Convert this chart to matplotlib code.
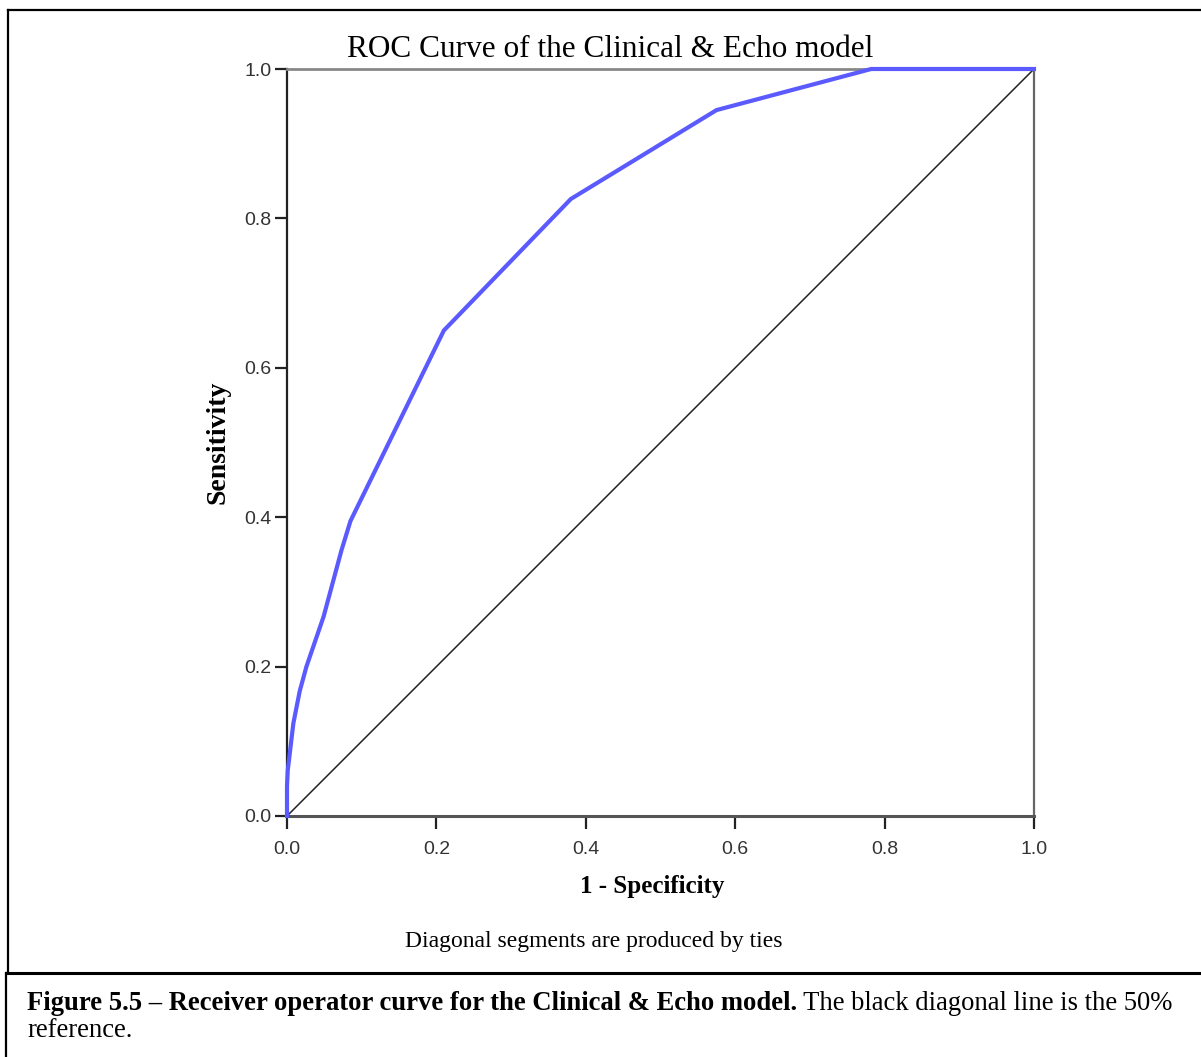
import numpy as np
import matplotlib.pyplot as plt
from matplotlib.lines import Line2D

# ROC points (1 - specificity, sensitivity)
fpr = [0.0, 0.0, 0.001, 0.0085, 0.017, 0.026, 0.049, 0.073, 0.085, 0.21, 0.38, 0.575, 0.782, 1.0]
tpr = [0.0, 0.04, 0.061, 0.124, 0.167, 0.20, 0.267, 0.356, 0.395, 0.65, 0.826, 0.945, 1.0, 1.0]
ref_line = [0.0, 1.0]
ticks = [0.0, 0.2, 0.4, 0.6, 0.8, 1.0]

title = "ROC Curve of the Clinical & Echo model"
xlabel = "1 - Specificity"
ylabel = "Sensitivity"
footnote = "Diagonal segments are produced by ties"
caption_bold = "Figure 5.5 \u2013 Receiver operator curve for the Clinical & Echo model."
caption_rest = " The black diagonal line is the 50%"
caption_line2 = "reference."

W, H = 1201, 1057
fig = plt.figure(figsize=(W / 100, H / 100), dpi=100)
ax = fig.add_axes([287 / W, 1 - 816 / H, (1034 - 287) / W, (816 - 69) / H])

ax.plot(ref_line, ref_line, color='#222222', lw=1.1, zorder=2)
ax.plot(fpr, tpr, color='#5a5aff', lw=3.0, solid_joinstyle='miter', zorder=3, clip_on=False)

ax.set_xlim(0, 1)
ax.set_ylim(0, 1)
ax.set_xticks(ticks)
ax.set_yticks(ticks)
tick_font = dict(fontfamily='Liberation Sans', fontsize=14, color='#333333')
ax.set_xticklabels([f"{t:.1f}" for t in ticks], **tick_font)
ax.set_yticklabels([f"{t:.1f}" for t in ticks], **tick_font)
ax.tick_params(axis='x', direction='out', length=9, width=1.6, color='#222222', pad=9)
ax.tick_params(axis='y', direction='out', length=9, width=1.6, color='#222222', pad=2)

ax.spines['left'].set_color('#222222')
ax.spines['left'].set_linewidth(1.6)
ax.spines['bottom'].set_color('#555555')
ax.spines['bottom'].set_linewidth(2.2)
ax.spines['top'].set_color('#888888')
ax.spines['top'].set_linewidth(2.0)
ax.spines['right'].set_color('#666666')
ax.spines['right'].set_linewidth(1.6)

fig.text(610 / W, 1 - 57 / H, title, ha='center', va='baseline',
         fontfamily='Liberation Serif', fontsize=22.5)
fig.text(652 / W, 1 - 886 / H, xlabel, ha='center', va='center',
         fontfamily='Liberation Serif', fontweight='bold', fontsize=18)
fig.text(218 / W, 1 - 442 / H, ylabel, ha='center', va='center', rotation=90,
         fontfamily='Liberation Serif', fontweight='bold', fontsize=20)
fig.text(594 / W, 1 - 942 / H, footnote, ha='center', va='center',
         fontfamily='Liberation Serif', fontsize=17)

# caption below the chart box
t1 = fig.text(27 / W, 1 - 1010 / H, caption_bold, ha='left', va='baseline',
              fontfamily='Liberation Serif', fontweight='bold', fontsize=19.2)
ax.annotate(caption_rest, xy=(1, 0), xycoords=t1, ha='left', va='bottom',
            fontfamily='Liberation Serif', fontsize=19.2, annotation_clip=False)
fig.text(27 / W, 1 - 1037 / H, caption_line2, ha='left', va='baseline',
         fontfamily='Liberation Serif', fontsize=19.2)

# frame lines around the chart and caption
def px_line(xs, ys, lw):
    fig.add_artist(Line2D([x / W for x in xs], [1 - y / H for y in ys],
                          color='black', lw=lw, transform=fig.transFigure))

px_line([8, 1201], [10, 10], 1.6)
px_line([8, 8], [10, 973], 1.6)
px_line([6, 1201], [973, 973], 2.2)
px_line([6, 6], [973, 1057], 1.6)

fig.savefig("out.png", dpi=100)
